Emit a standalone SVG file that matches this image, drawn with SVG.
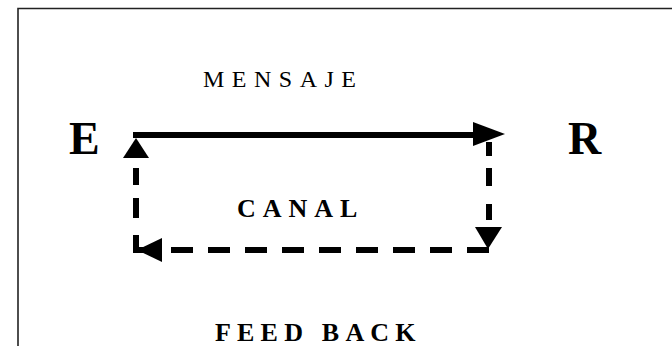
<svg xmlns="http://www.w3.org/2000/svg" width="672" height="346" viewBox="0 0 672 346">
<style>
.t{font-family:"Liberation Serif","Times New Roman",serif;fill:#000}
.big{font-size:46px;font-weight:bold}
.lbl{font-size:26px;font-weight:bold;letter-spacing:7px}
.msg{font-size:24px;letter-spacing:7.5px}
.solid{stroke:#000;stroke-width:6;fill:none}
.dash{stroke:#000;stroke-width:6;fill:none;stroke-dasharray:22 15}
.head{fill:#000}
</style>
<rect width="672" height="346" fill="#fff"/>
<path d="M18 346 V8.5 H672" fill="none" stroke="#222" stroke-width="1.6"/>
<g id="E"><text class="t big" x="69" y="154">E</text></g>
<g id="R"><text class="t big" x="568" y="154">R</text></g>
<g id="mensaje"><text class="t msg" x="203" y="87">MENSAJE</text></g>
<g id="canal"><text class="t lbl" x="237" y="217">CANAL</text></g>
<g id="feedback"><text class="t lbl" x="215" y="341" style="letter-spacing:6.2px">FEED BACK</text></g>
<g id="connectors">
<line class="solid" x1="133" y1="135" x2="476" y2="135"/>
<polygon class="head" points="473,122 505,134 473,146"/>
<line class="dash" x1="489" y1="142" x2="489" y2="228" style="stroke-dasharray:14 12 18 18 16 18"/>
<polygon class="head" points="475,227 502,227 488,249"/>
<line class="dash" x1="489" y1="250" x2="136" y2="250"/>
<polygon class="head" points="137,250 162,238 162,262"/>
<line class="dash" x1="136" y1="253" x2="136" y2="158" style="stroke-dasharray:18 17 20 13 17"/>
<polygon class="head" points="136,138 123,158 149,158"/>
</g>
</svg>
